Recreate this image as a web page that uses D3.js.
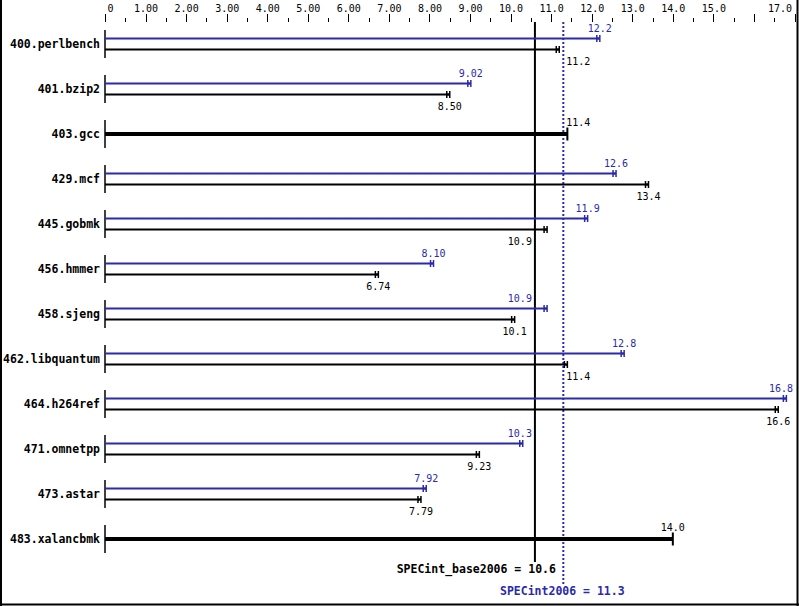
<!DOCTYPE html>
<html><head><meta charset="utf-8">
<script src="https://cdn.jsdelivr.net/npm/d3@7"></script>
<style>
html,body{margin:0;padding:0;background:#fff;}
svg{display:block;}
</style></head>
<body>
<svg id="chart" width="799" height="606"></svg>
<script>
// ---- data ----
const benchmarks = ["400.perlbench","401.bzip2","403.gcc","429.mcf","445.gobmk","456.hmmer",
  "458.sjeng","462.libquantum","464.h264ref","471.omnetpp","473.astar","483.xalancbmk"];
const peakValues = [12.2, 9.02, null, 12.6, 11.9, 8.10, 10.9, 12.8, 16.8, 10.3, 7.92, null];
const baseValues = [11.2, 8.50, 11.4, 13.4, 10.9, 6.74, 10.1, 11.4, 16.6, 9.23, 7.79, 14.0];
const baseMean = 10.6;
const peakMean = 11.3;
const baseMeanLabel = "SPECint_base2006 = 10.6";
const peakMeanLabel = "SPECint2006 = 11.3";
const majorTicks = [0,1,2,3,4,5,6,7,8,9,10,11,12,13,14,15,16,17];
const tickLabels = ["0","1.00","2.00","3.00","4.00","5.00","6.00","7.00","8.00","9.00",
  "10.0","11.0","12.0","13.0","14.0","15.0","","17.0"];
const minorTicks = [0.5,1.5,2.5,3.5,4.5,5.5,6.5,7.5,8.5,9.5,10.5,11.5,12.5,13.5,14.5,15.5,16.5];

// ---- styles ----
const W = 799, H = 606;
const BLUE = "#2a2aaa";
const MONO = "'DejaVu Sans Mono', 'Liberation Mono', monospace";
const CHARW = 6.02; // 10px DejaVu Sans Mono

const svg = d3.select("#chart");
const x = d3.scaleLinear().domain([0, 17]).range([105, 794.5]);
const y = d3.scaleBand().domain(benchmarks).range([21.5, 561.5]);
const fmt = d3.format(".3r");

// frame
svg.append("line").attr("x1",1).attr("x2",1).attr("y1",0).attr("y2",H).attr("stroke","#000").attr("stroke-width",2);
svg.append("line").attr("x1",W-1.5).attr("x2",W-1.5).attr("y1",0).attr("y2",H).attr("stroke","#000").attr("stroke-width",2);
svg.append("line").attr("x1",0).attr("x2",W).attr("y1",H-1.5).attr("y2",H-1.5).attr("stroke","#000").attr("stroke-width",2);

// axes
const axisY = 22;
const major = svg.append("g").attr("transform",`translate(0,${axisY})`)
  .call(d3.axisTop(x).tickValues(majorTicks).tickSize(8).tickPadding(2)
    .tickFormat((d,i)=>tickLabels[i]));
major.select(".domain").remove();
major.selectAll("line").attr("stroke","#000").attr("shape-rendering","crispEdges");
major.selectAll("text").attr("font-family",MONO).attr("font-size","10px").attr("fill","#000")
  .each(function(d){
    const t = d3.select(this);
    const w = this.getComputedTextLength();
    const cx = x(d);
    let lo = cx - w/2, hi = cx + w/2;
    let shift = 0;
    if (lo < x(0) + 2) shift = x(0) + 2 - lo;
    if (hi > x(17) - 3) shift = x(17) - 3 - hi;
    t.attr("x", shift);
  });
const minor = svg.append("g").attr("transform",`translate(0,${axisY})`)
  .call(d3.axisTop(x).tickValues(minorTicks).tickSize(4).tickFormat(""));
minor.select(".domain").remove();
minor.selectAll("line").attr("stroke","#000").attr("shape-rendering","crispEdges");

// mean lines
const meanLines = [x(baseMean), x(peakMean)];
svg.append("line").attr("x1",x(baseMean)).attr("x2",x(baseMean))
  .attr("y1",axisY).attr("y2",562).attr("stroke","#000").attr("stroke-width",2);
svg.append("line").attr("x1",x(peakMean)).attr("x2",x(peakMean))
  .attr("y1",axisY).attr("y2",584).attr("stroke",BLUE).attr("stroke-width",2)
  .attr("stroke-dasharray","2,2");

// categories
const groups = svg.append("g").selectAll("g").data(benchmarks).join("g")
  .attr("transform", d => `translate(0,${y(d) + y.bandwidth()/2})`);

groups.append("line").attr("x1",x(0)).attr("x2",x(0)).attr("y1",-14).attr("y2",14)
  .attr("stroke","#000").attr("stroke-width",1.5);
groups.append("text").attr("x",100).attr("y",4).attr("text-anchor","end")
  .attr("font-family",MONO).attr("font-weight","bold").attr("font-size","11.5px")
  .text(d=>d);

function labelX(v, text){
  const w = text.length * CHARW;
  const c = x(v);
  const margin = 3;
  const collides = cc => meanLines.some(L => L > cc - w/2 - margin && L < cc + w/2 + margin);
  let best = c;
  if (collides(c)) {
    const cands = [];
    meanLines.forEach(L => { cands.push(L + margin + w/2); cands.push(L - margin - w/2); });
    const ok = cands.filter(cc => !collides(cc));
    ok.sort((a,b)=>Math.abs(a-c)-Math.abs(b-c));
    best = ok[0];
  }
  if (best + w/2 > W - 6) best = W - 6 - w/2;
  return best;
}

function drawBar(g, v, yy, color, thick, labelAbove, labelDy){
  g.append("line").attr("x1",x(0)).attr("x2",x(v)).attr("y1",yy).attr("y2",yy)
    .attr("stroke",color).attr("stroke-width",thick ? 4 : 2);
  if (thick) {
    g.append("line").attr("x1",x(v)).attr("x2",x(v)).attr("y1",yy-6.5).attr("y2",yy+6.5)
      .attr("stroke",color).attr("stroke-width",2);
  } else {
    [x(v)-3, x(v)].forEach(xx => {
      g.append("line").attr("x1",xx).attr("x2",xx).attr("y1",yy-3.5).attr("y2",yy+3.5)
        .attr("stroke",color).attr("stroke-width",1.5);
    });
    g.append("line").attr("x1",x(v)-3).attr("x2",x(v)).attr("y1",yy).attr("y2",yy)
      .attr("stroke",color).attr("stroke-width",2);
  }
  const t = fmt(v);
  g.append("text").attr("x",labelX(v,t)).attr("y",yy+labelDy).attr("text-anchor","middle")
    .attr("font-family",MONO).attr("font-size","10px").attr("fill",color).text(t);
}

groups.each(function(d,i){
  const g = d3.select(this);
  const pv = peakValues[i], bv = baseValues[i];
  if (pv == null) {
    drawBar(g, bv, 0, "#000", true, true, -8);
  } else {
    drawBar(g, pv, -5.5, BLUE, false, true, -7);
    drawBar(g, bv, 5.5, "#000", false, false, 15);
  }
});

// mean labels
svg.append("text").attr("x",x(baseMean)+21).attr("y",573).attr("text-anchor","end")
  .attr("font-family",MONO).attr("font-weight","bold").attr("font-size","11.5px")
  .attr("fill","#000").text(baseMeanLabel);
svg.append("text").attr("x",x(peakMean)-1).attr("y",595).attr("text-anchor","middle")
  .attr("font-family",MONO).attr("font-weight","bold").attr("font-size","11.5px")
  .attr("fill",BLUE).text(peakMeanLabel);
</script>
</body></html>
